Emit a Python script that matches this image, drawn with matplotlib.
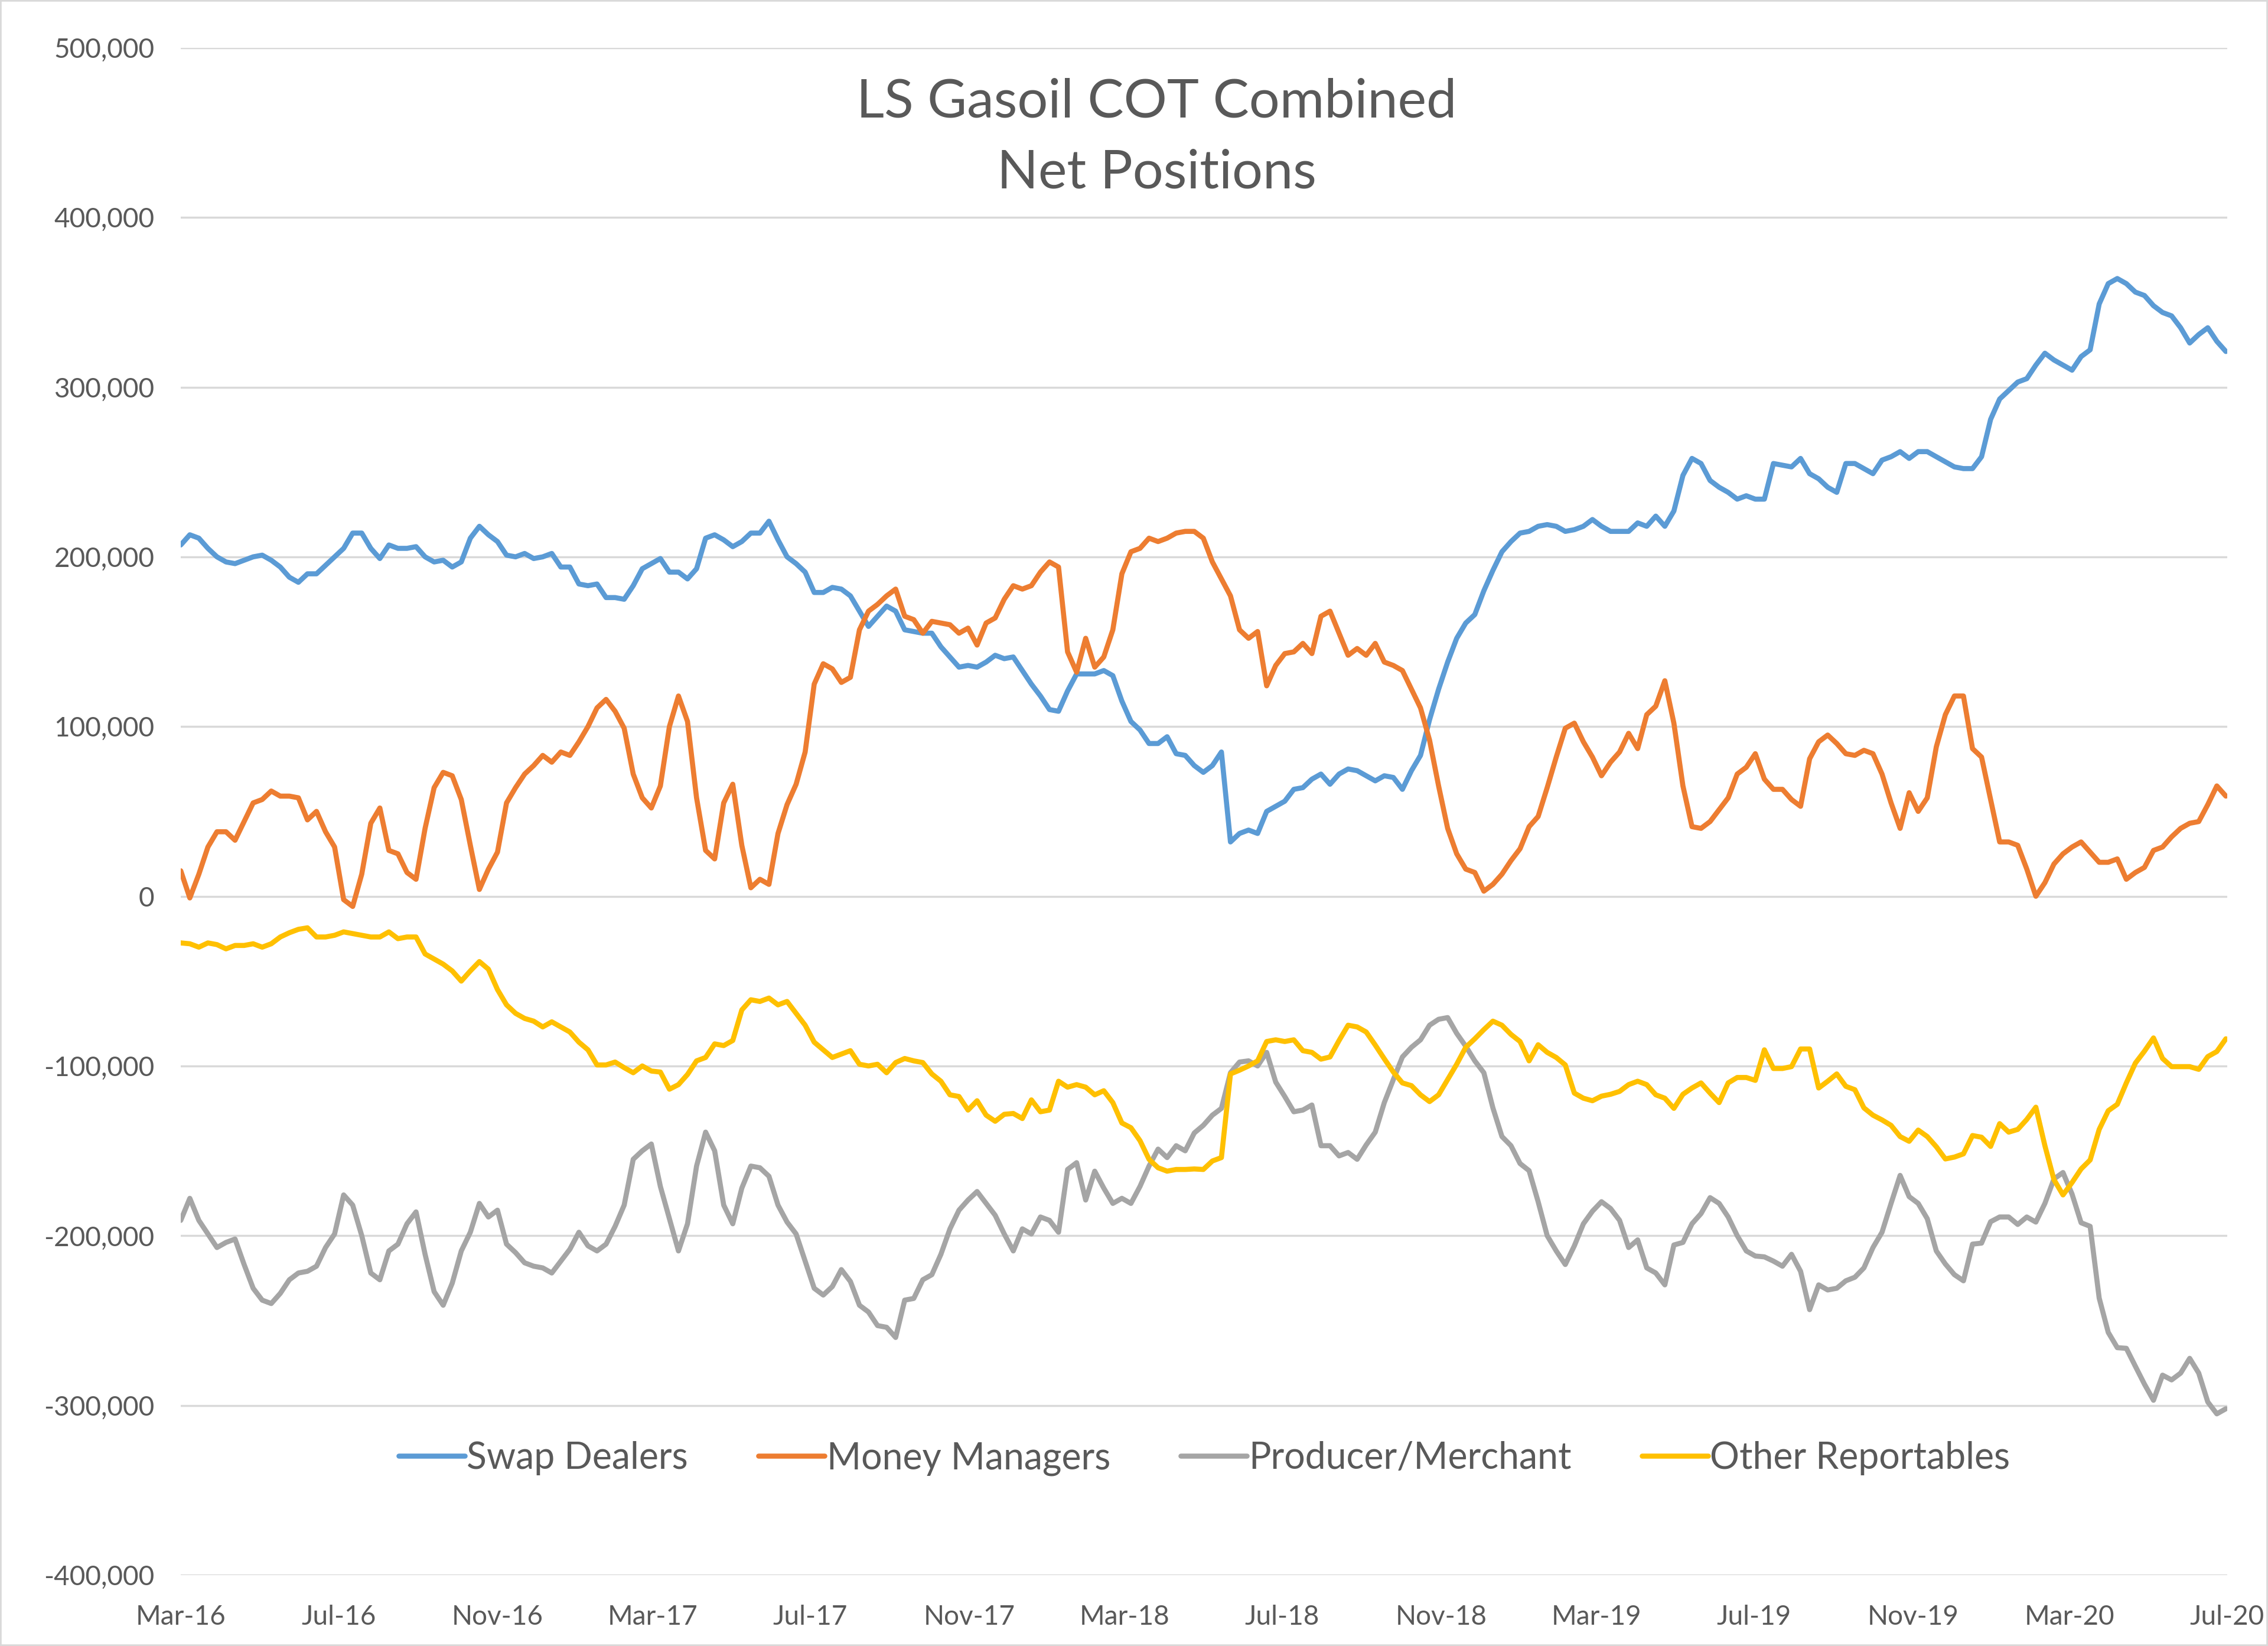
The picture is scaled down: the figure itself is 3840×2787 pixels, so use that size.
import pandas as pd
import matplotlib
matplotlib.use("Agg")
import matplotlib.pyplot as plt
import matplotlib.dates as mdates
from matplotlib.ticker import FuncFormatter, MultipleLocator
from matplotlib.patches import Rectangle

# Weekly net positions (thousands of lots)
first_week = "2016-03-01"

swap_dealers = [
    207, 213, 211, 205, 200, 197, 196, 198, 200, 201,
    198, 194, 188, 185, 190, 190, 195, 200, 205, 214,
    214, 205, 199, 207, 205, 205, 206, 200, 197, 198,
    194, 197, 211, 218, 213, 209, 201, 200, 202, 199,
    200, 202, 194, 194, 184, 183, 184, 176, 176, 175,
    183, 193, 196, 199, 191, 191, 187, 193, 211, 213,
    210, 206, 209, 214, 214, 221, 210, 200, 196, 191,
    179, 179, 182, 181, 177, 168, 159, 165, 171, 168,
    157, 156, 155, 155, 147, 141, 135, 136, 135, 138,
    142, 140, 141, 133, 125, 118, 110, 109, 121, 131,
    131, 131, 133, 130, 115, 103, 98, 90, 90, 94,
    84, 83, 77, 73, 77, 85, 32, 37, 39, 37,
    50, 53, 56, 63, 64, 69, 72, 66, 72, 75,
    74, 71, 68, 71, 70, 63, 74, 83, 104, 122,
    138, 152, 161, 166, 180, 192, 203, 209, 214, 215,
    218, 219, 218, 215, 216, 218, 222, 218, 215, 215,
    215, 220, 218, 224, 218, 227, 248, 258, 255, 245,
    241, 238, 234, 236, 234, 234, 255, 254, 253, 258,
    249, 246, 241, 238, 255, 255, 252, 249, 257, 259,
    262, 258, 262, 262, 259, 256, 253, 252, 252, 259,
    281, 293, 298, 303, 305, 313, 320, 316, 313, 310,
    318, 322, 349, 361, 364, 361, 356, 354, 348, 344,
    342, 335, 326, 331, 335, 327, 321,
]

money_managers = [
    15, -1, 13, 29, 38, 38, 33, 44, 55, 57,
    62, 59, 59, 58, 45, 50, 38, 29, -2, -6,
    13, 43, 52, 27, 25, 14, 10, 40, 64, 73,
    71, 57, 30, 4, 16, 26, 55, 64, 72, 77,
    83, 79, 85, 83, 91, 100, 111, 116, 109, 99,
    72, 58, 52, 65, 100, 118, 103, 58, 27, 22,
    55, 66, 30, 5, 10, 7, 37, 54, 66, 85,
    125, 137, 134, 126, 129, 157, 168, 172, 177, 181,
    165, 163, 155, 162, 161, 160, 155, 158, 148, 161,
    164, 175, 183, 181, 183, 191, 197, 194, 144, 132,
    152, 135, 141, 157, 190, 203, 205, 211, 209, 211,
    214, 215, 215, 211, 197, 187, 177, 157, 152, 156,
    124, 136, 143, 144, 149, 143, 165, 168, 155, 142,
    146, 142, 149, 138, 136, 133, 122, 111, 92, 65,
    40, 25, 16, 14, 3, 7, 13, 21, 28, 41,
    47, 64, 82, 99, 102, 91, 82, 71, 79, 85,
    96, 87, 107, 112, 127, 102, 65, 41, 40, 44,
    51, 58, 72, 76, 84, 69, 63, 63, 57, 53,
    81, 91, 95, 90, 84, 83, 86, 84, 72, 55,
    40, 61, 50, 58, 88, 107, 118, 118, 87, 82,
    57, 32, 32, 30, 16, 0, 8, 19, 25, 29,
    32, 26, 20, 20, 22, 10, 14, 17, 27, 29,
    35, 40, 43, 44, 54, 65, 59,
]

producer_merchant = [
    -191, -178, -191, -199, -207, -204, -202, -217, -231, -238,
    -240, -234, -226, -222, -221, -218, -207, -199, -176, -182,
    -200, -222, -226, -209, -205, -193, -186, -211, -233, -241,
    -228, -209, -198, -181, -189, -185, -205, -210, -216, -218,
    -219, -222, -215, -208, -198, -206, -209, -205, -194.5, -182,
    -155, -150, -146, -171, -190, -209, -193, -159, -139, -150,
    -182, -193, -172, -159, -160, -165, -182, -192, -199, -215,
    -231, -235, -230, -220, -227, -241, -245, -253, -254, -260,
    -238, -237, -226, -223, -211, -196, -185, -179, -174, -181,
    -188, -199, -209, -196, -199, -189, -191, -198, -161, -157,
    -179, -162, -172, -181, -178, -181, -171, -159, -149, -154,
    -147, -150, -139.5, -135, -129, -125, -104, -97.7, -97, -100,
    -92, -109.5, -118, -127, -126, -123, -147, -147, -153, -151,
    -155, -146.5, -139, -121.6, -108, -94.7, -89, -84.6, -76, -72.5,
    -71.5, -80.8, -88.4, -97, -104, -124.7, -141.6, -147, -157.5, -161.7,
    -180, -200, -209, -217, -206, -193, -185.6, -180, -184, -191,
    -207, -202.5, -219, -222, -229, -205.5, -204, -193, -187, -177.6,
    -181, -189, -200, -209, -212, -212.5, -215, -218, -211, -221,
    -243.6, -229, -232, -231, -226.6, -224.5, -219, -207, -198, -181,
    -164.5, -177, -181, -190, -209, -216.7, -223, -226.6, -205, -204.4,
    -191.8, -189, -189, -193.4, -189, -192, -181, -166.6, -162.8, -175.5,
    -192.4, -194.5, -236.8, -257, -266, -266.4, -277, -287.5, -297, -282.2,
    -285, -281, -272.3, -281, -298, -305, -302,
]

other_reportables = [
    -27.5, -28, -30, -27.5, -28.5, -31, -29, -29, -28, -30,
    -28, -24, -21.5, -19.5, -18.6, -24, -24, -23, -21, -22,
    -23, -24, -24, -21, -25, -24, -24, -34, -37, -40,
    -44, -50, -44, -38.5, -43, -55, -64, -69, -72, -73.6,
    -77, -74, -77, -80, -86, -90.5, -99.4, -99.4, -97.7, -101,
    -104, -100, -103, -103.6, -113.7, -111, -105, -97, -95, -87,
    -88, -85, -67, -61, -62, -60, -64, -62, -69, -76,
    -86, -90.5, -95, -93, -91, -99, -100, -99, -104, -98,
    -95.6, -97, -98, -104.7, -109, -117, -118, -126, -120.5, -129,
    -132.6, -128.5, -128, -131, -120, -127, -126, -109, -112.5, -111,
    -112.5, -117, -114.6, -121.6, -133.6, -136.4, -144, -155, -160, -162,
    -161, -161, -160.7, -161, -156, -154, -104.7, -102.5, -100, -97,
    -85.6, -84.6, -85.6, -84.6, -91, -92, -96, -94.7, -85, -76,
    -77, -80, -87.7, -95.8, -103.6, -110, -111.6, -117, -121, -117,
    -108, -99, -89, -84, -78.6, -73.6, -76, -81.4, -85.6, -97,
    -87.5, -92, -95, -99.4, -116, -119, -120.5, -117.8, -116.7, -115,
    -111, -109, -111, -117, -119, -125, -116.7, -113, -110, -116,
    -121.6, -110, -106.8, -106.8, -108.5, -90.5, -101.5, -101.5, -100.4, -90,
    -90, -113, -109, -104.7, -112, -114, -124.7, -129, -131.8, -135,
    -141.6, -144.4, -137.8, -141.6, -147.6, -154.8, -153.7, -151.8, -141, -142,
    -147.4, -134, -139, -137.4, -131.5, -124.3, -147, -167, -176, -168.7,
    -160.7, -155.4, -137.4, -126.4, -122.6, -110, -98.3, -91.3, -83.5, -95.6,
    -100.4, -100.4, -100.4, -102, -94.5, -91.5, -84,
]

series_names = ["Swap Dealers", "Money Managers", "Producer/Merchant", "Other Reportables"]
series_colors = ["#5B9BD5", "#ED7D31", "#A5A5A5", "#FFC000"]

text_color = "#595959"
grid_color = "#D9D9D9"

plt.rcParams["font.family"] = ["Lato", "DejaVu Sans"]

weeks = pd.date_range(first_week, periods=len(swap_dealers), freq="7D")
df = pd.DataFrame({
    "Swap Dealers": swap_dealers,
    "Money Managers": money_managers,
    "Producer/Merchant": producer_merchant,
    "Other Reportables": other_reportables,
}, index=weeks) * 1000

fig = plt.figure(figsize=(38.4, 27.87), dpi=100)
ax = fig.add_axes([0.0797, 0.0431, 0.9023, 0.9279])

for name, color in zip(series_names, series_colors):
    ax.plot(df.index, df[name], color=color, lw=6.2, label=name,
            solid_joinstyle="round", solid_capstyle="round")

# y axis
ax.set_ylim(-400000, 500000)
ax.yaxis.set_major_locator(MultipleLocator(100000))
ax.yaxis.set_major_formatter(FuncFormatter(lambda v, p: f"{v:,.0f}"))
ax.grid(axis="y", color=grid_color, lw=2.5)
ax.set_axisbelow(True)

# x axis: every 4 months
ax.set_xlim(pd.Timestamp("2016-03-01"), pd.Timestamp("2020-07-01"))
ax.xaxis.set_major_locator(mdates.MonthLocator(bymonth=[3, 7, 11]))
ax.xaxis.set_major_formatter(mdates.DateFormatter("%b-%y"))

ax.tick_params(axis="both", length=0, labelsize=33, labelcolor=text_color)
ax.tick_params(axis="y", pad=32)
ax.tick_params(axis="x", pad=36)
for s in ax.spines.values():
    s.set_visible(False)

fig.text(0.510, 0.9165, "LS Gasoil COT Combined\nNet Positions", ha="center", va="center",
         fontsize=66, color=text_color, linespacing=1.55)

ax.legend(loc="center", bbox_to_anchor=(0.531, 0.114), bbox_transform=fig.transFigure,
          ncol=4, frameon=False, fontsize=45, labelcolor=text_color,
          handlelength=1.8, handletextpad=0.05, columnspacing=1.9)

# chart area border
fig.patches.append(Rectangle((0, 0), 1, 1, transform=fig.transFigure, fill=False,
                             edgecolor=grid_color, lw=4))

fig.savefig("out.png", dpi=100, facecolor="white")
